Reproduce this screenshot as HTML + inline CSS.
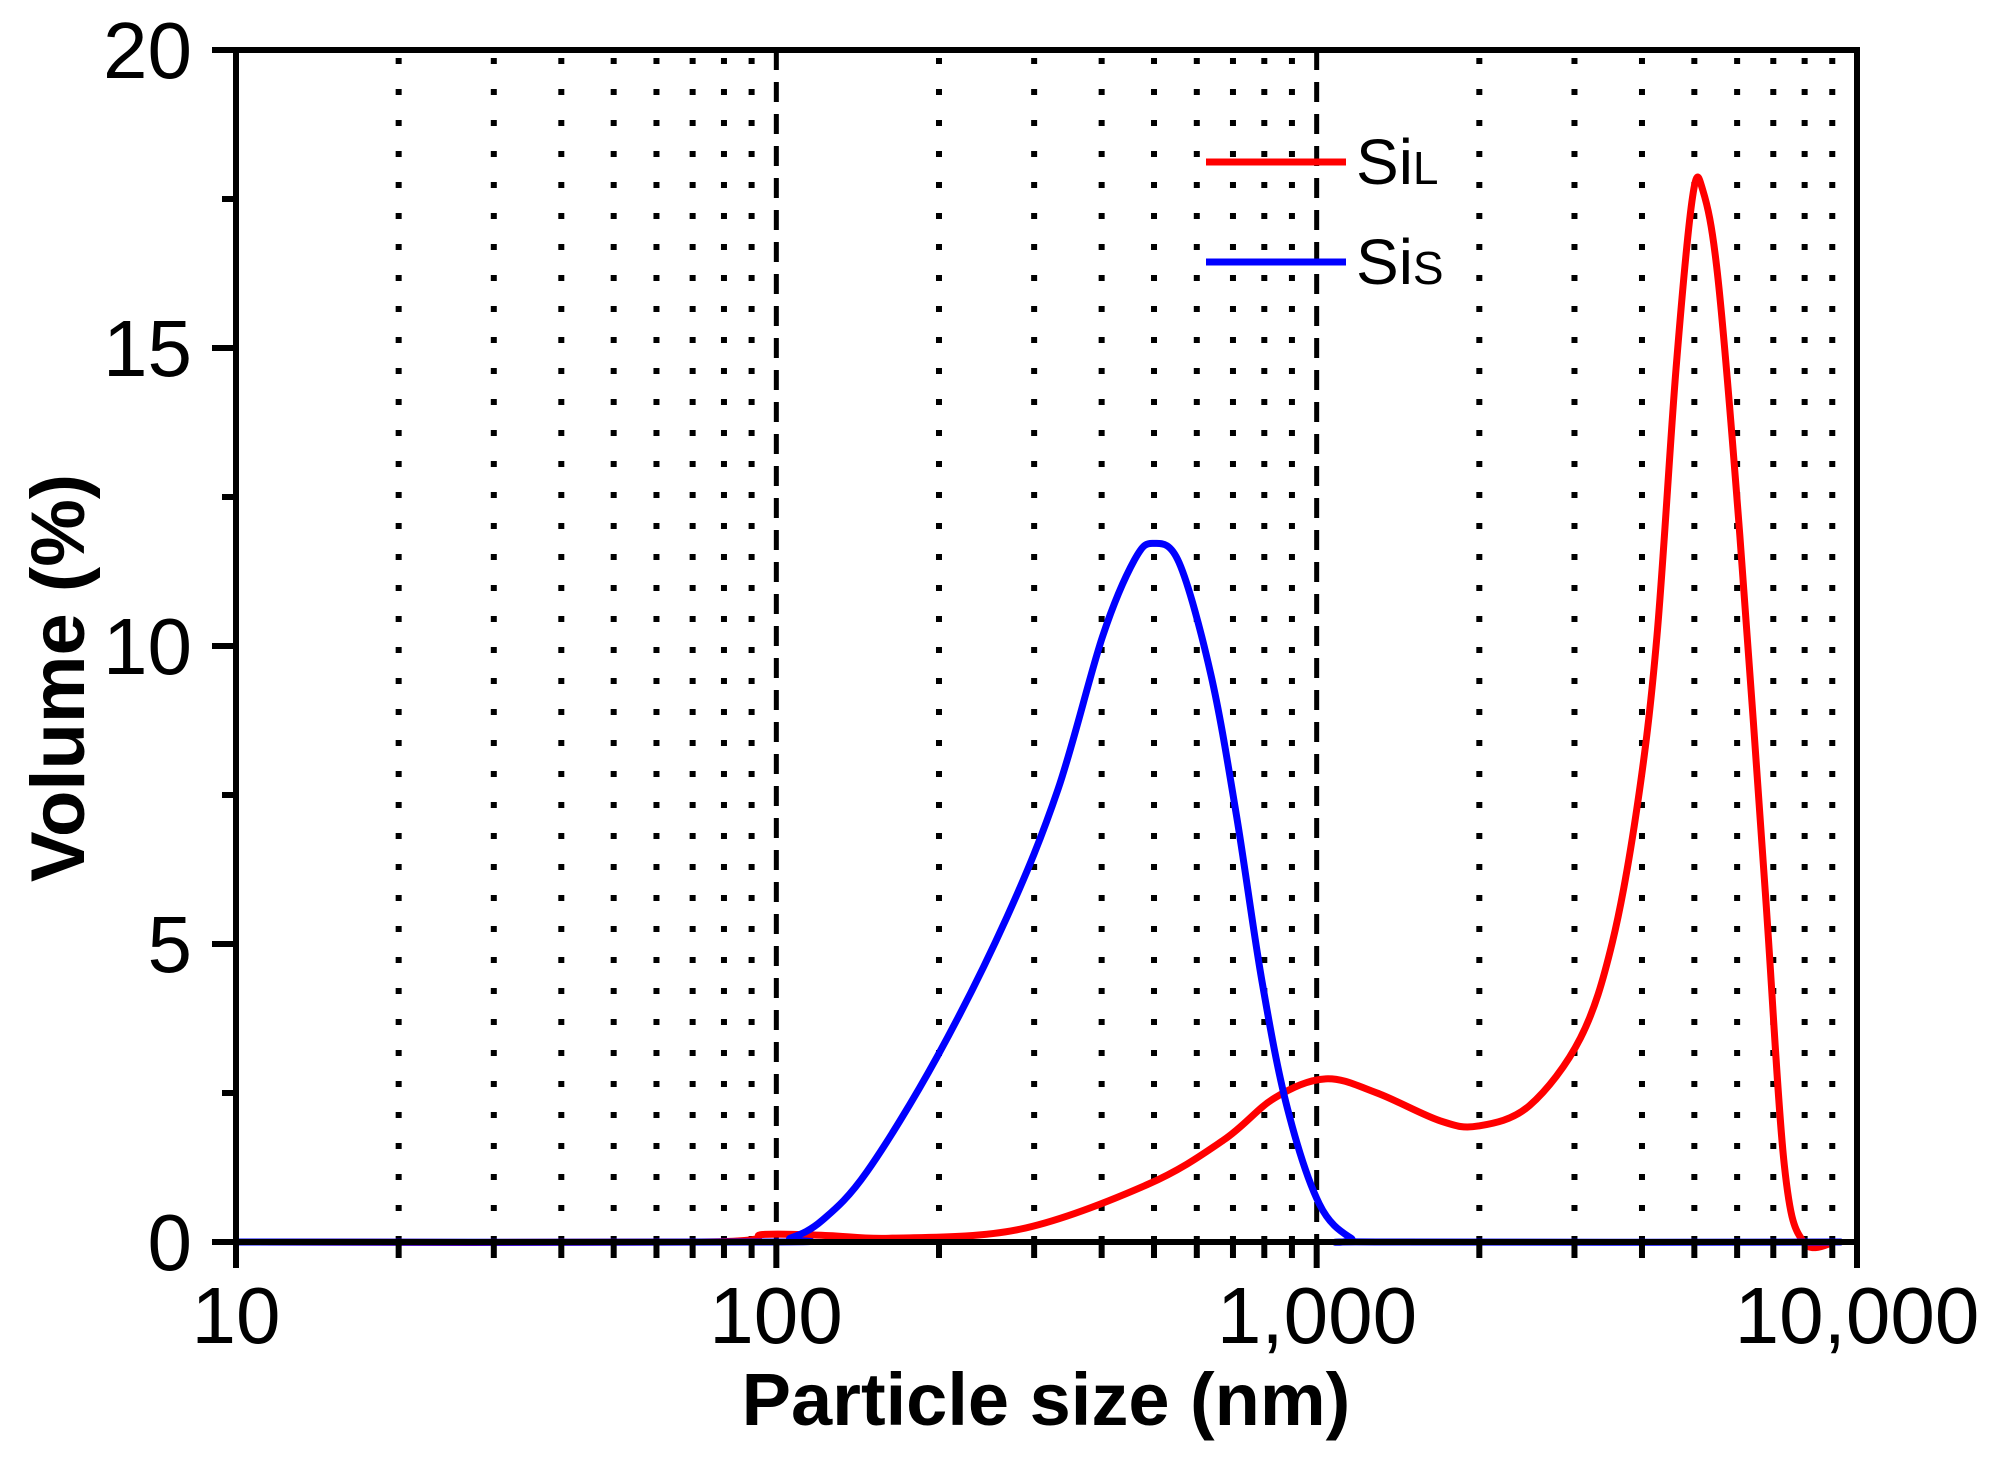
<!DOCTYPE html>
<html><head><meta charset="utf-8"><style>html,body{margin:0;padding:0;background:#fff}svg{display:block}</style></head>
<body>
<svg id="s" width="1997" height="1468" xmlns="http://www.w3.org/2000/svg" font-family="Liberation Sans, Arial, sans-serif">
<g id="grid"></g>
<g id="curves"></g>
<rect x="236" y="50" width="1621" height="1192" fill="none" stroke="#000" stroke-width="6"/>
<g id="ticks" stroke="#000" stroke-width="6"></g>
<g font-size="80" fill="#000" text-anchor="end">
<text x="192" y="1270">0</text>
<text x="192" y="972">5</text>
<text x="192" y="674">10</text>
<text x="192" y="376">15</text>
<text x="192" y="78">20</text>
</g>
<g font-size="80" fill="#000" text-anchor="middle">
<text x="236" y="1343">10</text>
<text x="776" y="1343">100</text>
<text x="1317" y="1343">1,000</text>
<text x="1857" y="1343">10,000</text>
</g>
<text x="1046" y="1425" font-size="74" font-weight="bold" text-anchor="middle">Particle size (nm)</text>
<text transform="translate(84,678) rotate(-90)" font-size="76" font-weight="bold" text-anchor="middle">Volume (%)</text>
<line x1="1206" y1="162" x2="1346" y2="162" stroke="#f00" stroke-width="7"/>
<line x1="1206" y1="262" x2="1346" y2="262" stroke="#00f" stroke-width="7"/>
<text x="1356" y="184" font-size="64">Si<tspan font-size="46">L</tspan></text>
<text x="1356" y="284" font-size="64">Si<tspan font-size="46">S</tspan></text>
</svg>
<script>
var NS="http://www.w3.org/2000/svg";
function el(p,t,a){var e=document.createElementNS(NS,t);for(var k in a)e.setAttribute(k,a[k]);document.getElementById(p).appendChild(e);return e;}
var L=236,R=1857,T=50,B=1242,D=(R-L)/3;
function X(v){return L+(Math.log10(v)-1)*D;}
for(var d=1;d<=3;d++){for(var m=1;m<=9;m++){var v=m*Math.pow(10,d);var x=X(v);
 if(m>1){el("grid","line",{x1:x,y1:T+8,x2:x,y2:B,stroke:"#000","stroke-width":6,"stroke-dasharray":"6 25"});
  el("ticks","line",{x1:x,y1:B,x2:x,y2:B+16});}
 if(m==1&&d>1){el("grid","line",{x1:x,y1:T,x2:x,y2:B,stroke:"#000","stroke-width":5,"stroke-dasharray":"20 12"});}
 if(m==1)el("ticks","line",{x1:x,y1:B,x2:x,y2:B+26});
}}
el("ticks","line",{x1:R,y1:B,x2:R,y2:B+26});
for(var i=0;i<=8;i++){var y=B-i*(B-T)/8;el("ticks","line",{x1:L,y1:y,x2:L-(i%2?14:24),y2:y});}
function mx(x){return 236+(x-185)*1621/1272;}function my(y){return 50+(y-40)*1192/935;}
function path(pts,c){var p=pts.map(function(q){return[mx(q[0]),my(q[1])];});var s="M"+p[0][0]+","+p[0][1];
 for(var i=0;i<p.length-1;i++){var p0=p[i-1]||p[i],p1=p[i],p2=p[i+1],p3=p[i+2]||p2;
  s+="C"+(p1[0]+(p2[0]-p0[0])/6)+","+(p1[1]+(p2[1]-p0[1])/6)+" "+(p2[0]-(p3[0]-p1[0])/6)+","+(p2[1]-(p3[1]-p1[1])/6)+" "+p2[0]+","+p2[1];}
 el("curves","path",{d:s,fill:"none",stroke:c,"stroke-width":7,"stroke-linejoin":"round"});}
path([[185,975],[550,975],[600,969],[650,970],[700,972],[800,965],[900,930],[960,895],[1000,862],[1040,847],[1080,858],[1130,880],[1160,884],[1200,868],[1240,815],[1265,740],[1285,630],[1300,500],[1315,290],[1328,155],[1336,150],[1348,220],[1365,420],[1385,700],[1400,915],[1415,975],[1440,975]],"#f00");
path([[185,975],[600,975],[620,972],[645,958],[680,920],[735,830],[790,720],[830,620],[865,500],[890,440],[905,427],[925,442],[950,530],[970,640],[990,770],[1010,870],[1035,945],[1060,972],[1080,975],[1445,975]],"#00f");
</script>
</body></html>
